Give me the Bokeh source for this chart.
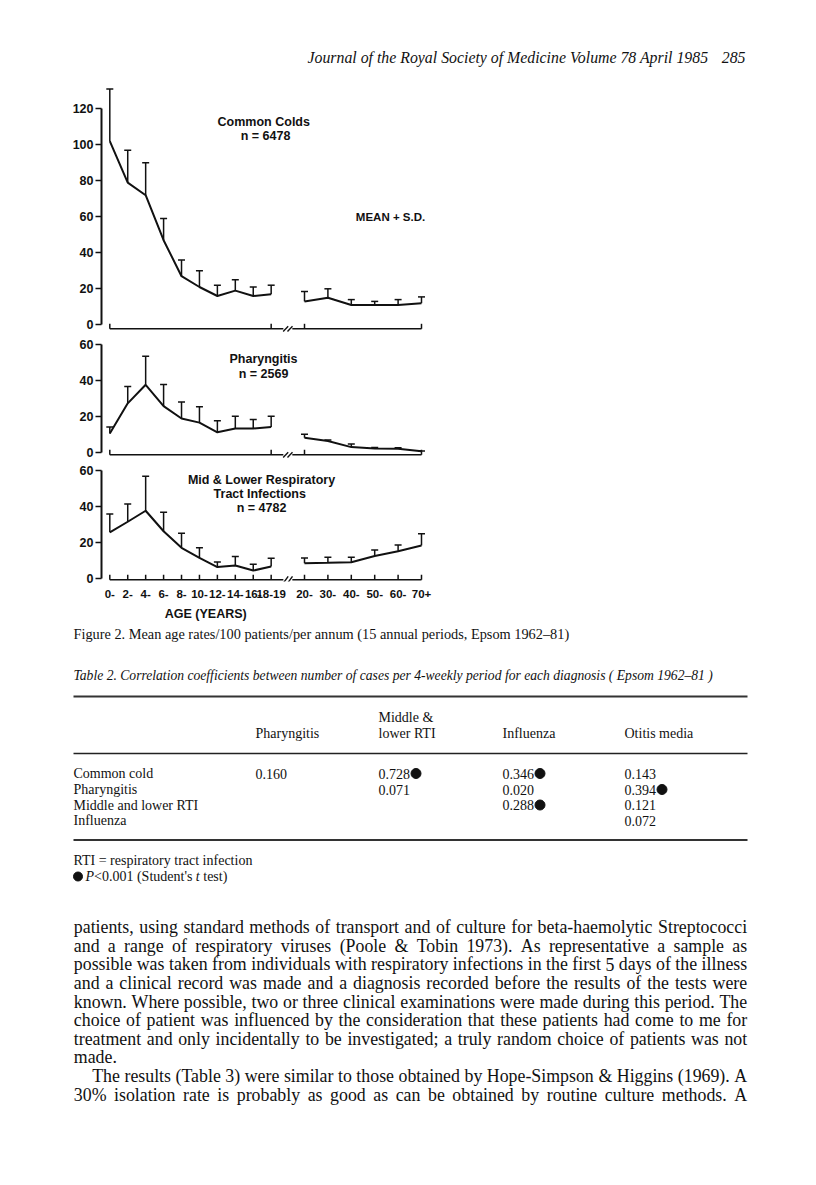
import os
import glob
import subprocess
from bokeh.plotting import figure
from bokeh.layouts import column
from bokeh.models import Range1d, FixedTicker, Whisker, TeeHead, ColumnDataSource
from bokeh.core.properties import value
from bokeh.embed import file_html
from bokeh.resources import INLINE

# ---------------- data ----------------
age_young = ["0-", "2-", "4-", "6-", "8-", "10-", "12-", "14-", "16-", "18-19"]
age_adult = ["20-", "30-", "40-", "50-", "60-", "70+"]

cold_mean = [102, 79, 72, 47, 27, 21, 16, 19, 16, 17, 13, 15, 11, 11, 11, 12]
cold_sd = [29, 18, 18, 12, 9, 9, 6, 6, 5, 5, 5.5, 5, 3, 2, 3, 3.5]

phar_mean = [10.5, 27.3, 37.6, 25.8, 18.9, 16.6, 11.2, 13.3, 13.3, 14.2, 8.2, 6.4, 3.0, 2.2, 2.1, 0.7]
phar_sd = [3.7, 9.3, 15.9, 12.0, 9.1, 8.8, 6.4, 6.9, 5.0, 6.0, 1.9, 0.5, 1.7, 0.6, 0.5, 0.2]

rti_mean = [25.8, 31.7, 37.8, 26.4, 17.2, 11.6, 6.5, 7.4, 4.6, 6.8, 8.7, 8.9, 9.2, 12.7, 15.3, 18.5]
rti_sd = [10.2, 9.8, 19.2, 10.6, 8.1, 5.6, 2.9, 5.0, 3.5, 4.6, 2.9, 3.1, 2.8, 3.3, 3.5, 6.5]

cold_ticks = [0, 20, 40, 60, 80, 100, 120]
small_ticks = [0, 20, 40, 60]

cold_title = ["Common  Colds", "n = 6478"]
phar_title = ["Pharyngitis", "n = 2569"]
rti_title = ["Mid & Lower Respiratory", "Tract  Infections", "n = 4782"]
mean_note = "MEAN + S.D."
x_title = "AGE  (YEARS)"

header_text = "Journal of the Royal Society of Medicine Volume 78 April 1985"
page_number = "285"
caption = "Figure 2. Mean age rates/100 patients/per annum (15 annual periods, Epsom 1962\u201381)"
table_title = ("Table 2. Correlation coefficients between number of cases per 4-weekly period "
               "for each diagnosis ( Epsom 1962\u201381 )")
table_cols = [["Pharyngitis"], ["Middle &", "lower RTI"], ["Influenza"], ["Otitis media"]]
table_rows = ["Common cold", "Pharyngitis", "Middle and lower RTI", "Influenza"]
table_vals = [["0.160", "0.728", "0.346", "0.143"],
              ["", "0.071", "0.020", "0.394"],
              ["", "", "0.288", "0.121"],
              ["", "", "", "0.072"]]
table_sig = [[0, 1, 1, 0],
             [0, 0, 0, 1],
             [0, 0, 1, 0],
             [0, 0, 0, 0]]
foot_1 = "RTI = respiratory tract infection"
foot_2 = [("P", "italic"), ("<0.001 (Student's ", "normal"), ("t", "italic"), (" test)", "normal")]

body_lines = [
    ("patients, using standard methods of transport and of culture for beta-haemolytic Streptococci", True, False),
    ("and a range of respiratory viruses (Poole & Tobin 1973). As representative a sample as", True, False),
    ("possible was taken from individuals with respiratory infections in the first 5 days of the illness", True, False),
    ("and a clinical record was made and a diagnosis recorded before the results of the tests were", True, False),
    ("known. Where possible, two or three clinical examinations were made during this period. The", True, False),
    ("choice of patient was influenced by the consideration that these patients had come to me for", True, False),
    ("treatment and only incidentally to be investigated; a truly random choice of patients was not", True, False),
    ("made.", False, False),
    ("The results (Table 3) were similar to those obtained by Hope-Simpson & Higgins (1969). A", True, True),
    ("30% isolation rate is probably as good as can be obtained by routine culture methods. A", True, False),
]

# ---------------- layout constants ----------------
W = 816
INK = "#111111"
SANS = "Liberation Sans"
SERIF = "Liberation Serif"
PX_X = 17.93
PX_Y = 1.8
LEFT = 101
X_START = -0.463
STEP_ADULT = 1.305
GAP_BLOCK = 1.859
x_young = list(range(len(age_young)))
x_adult = [round(x_young[-1] + GAP_BLOCK + STEP_ADULT * i, 3) for i in range(len(age_adult))]
x_all = x_young + x_adult

# ---------------- font metrics ----------------
try:
    from PIL import ImageFont
except Exception:
    ImageFont = None


def find_font(fname, pattern):
    try:
        out = subprocess.run(["fc-match", "-f", "%{file}", pattern], capture_output=True,
                             text=True, timeout=5).stdout.strip()
        if out and os.path.exists(out) and "Liberation" in out:
            return out
    except Exception:
        pass
    for root in ["/usr/share/fonts", "/usr/local/share/fonts",
                 os.path.expanduser("~/.fonts"), os.path.expanduser("~/.local/share/fonts")]:
        hits = glob.glob(os.path.join(root, "**", fname), recursive=True)
        if hits:
            return hits[0]
    return None


FONT_FILES = {"normal": find_font("LiberationSerif-Regular.ttf", "Liberation Serif:style=Regular"),
              "italic": find_font("LiberationSerif-Italic.ttf", "Liberation Serif:style=Italic")}

_R = {' ': 250, '!': 333, '&': 778, "'": 333, '(': 333, ')': 333, '+': 564, ',': 250, '-': 333,
      '.': 250, '/': 278, ':': 278, ';': 278, '<': 564, '=': 564, '%': 833, '\u2013': 500,
      'A': 722, 'B': 667, 'C': 667, 'D': 722, 'E': 611, 'F': 556, 'G': 722, 'H': 722, 'I': 333,
      'J': 389, 'K': 722, 'L': 611, 'M': 889, 'N': 722, 'O': 722, 'P': 556, 'Q': 722, 'R': 667,
      'S': 556, 'T': 611, 'U': 722, 'V': 722, 'W': 944, 'X': 722, 'Y': 722, 'Z': 611,
      'a': 444, 'b': 500, 'c': 444, 'd': 500, 'e': 444, 'f': 333, 'g': 500, 'h': 500, 'i': 278,
      'j': 278, 'k': 500, 'l': 278, 'm': 778, 'n': 500, 'o': 500, 'p': 500, 'q': 500, 'r': 333,
      's': 389, 't': 278, 'u': 500, 'v': 500, 'w': 722, 'x': 500, 'y': 500, 'z': 444}
_I = dict(_R)
_I.update({':': 333, ';': 333, '<': 675, 'A': 611, 'B': 611, 'E': 611, 'F': 611, 'J': 444,
           'K': 667, 'L': 556, 'M': 833, 'N': 667, 'P': 611, 'R': 611, 'S': 500, 'T': 556,
           'V': 611, 'W': 833, 'X': 611, 'Y': 556, 'Z': 556, 'a': 500, 'f': 278, 'k': 444,
           'm': 722, 'r': 389, 'v': 444, 'w': 667, 'x': 444, 'y': 444, 'z': 389})
_fcache = {}


def tw(text, size, style="normal"):
    path = FONT_FILES.get(style)
    if ImageFont is not None and path:
        try:
            if path not in _fcache:
                _fcache[path] = ImageFont.truetype(path, 200)
            return _fcache[path].getlength(text) * size / 200.0
        except Exception:
            pass
    tab = _R if style == "normal" else _I
    return sum(tab.get(c, 500) for c in text) * size / 1000.0


def fit(text, width, style="normal"):
    return width / tw(text, 1.0, style)


def base_fig(**kw):
    p = figure(output_backend="svg", toolbar_location=None, frame_align=False, **kw)
    p.grid.visible = False
    p.outline_line_color = None
    p.background_fill_color = "white"
    p.border_fill_color = "white"
    return p


# ---------------- chart panels ----------------
def px_to_x(page_x):
    return X_START + (page_x - LEFT) / PX_X


def make_panel(top, bottom, zero_y, base_px, mean, sd, ticks, ymax, titles, title_cx, title_ys,
               with_labels):
    height = bottom - top
    border_b = 24 if with_labels else 0
    frame_bottom = bottom - border_b
    y_end = (zero_y - top) / PX_Y
    y_start = -(frame_bottom - zero_y) / PX_Y
    p = base_fig(width=W, height=height,
                 x_range=Range1d(X_START, X_START + (W - LEFT) / PX_X),
                 y_range=Range1d(y_start, y_end),
                 min_border_left=LEFT, min_border_right=0, min_border_top=0,
                 min_border_bottom=border_b,
                 x_axis_location=("below" if with_labels else None), y_axis_location="left")

    ax = p.yaxis[0]
    ax.ticker = FixedTicker(ticks=ticks)
    ax.bounds = (0, ymax)
    ax.axis_line_width = 2
    ax.axis_line_color = INK
    ax.major_tick_out = 6
    ax.major_tick_in = 0
    ax.minor_tick_out = 0
    ax.minor_tick_in = 0
    ax.major_tick_line_width = 1.5
    ax.major_tick_line_color = INK
    ax.major_label_standoff = 2
    ax.major_label_text_font = SANS
    ax.major_label_text_font_style = "bold"
    ax.major_label_text_font_size = "12.5px"
    ax.major_label_text_color = INK

    n1 = len(x_young)
    p.line(x_young, mean[:n1], line_width=2, color=INK)
    p.line(x_adult, mean[n1:], line_width=2, color=INK)

    src = ColumnDataSource(dict(x=x_all, lower=mean, upper=[m + s for m, s in zip(mean, sd)]))
    p.add_layout(Whisker(source=src, base="x", lower="lower", upper="upper",
                         line_color=INK, line_width=1.5, lower_head=None,
                         upper_head=TeeHead(size=7, line_color=INK, line_width=1.5)))

    # baseline with a scale break
    by = -base_px / PX_Y
    cx = (x_young[-1] + x_adult[0]) / 2.0
    gap = 0.25
    p.segment(x0=[x_young[0], cx + gap], y0=[by, by], x1=[cx - gap, x_adult[-1]], y1=[by, by],
              line_width=1.5, color=INK)
    tick_x = x_all if with_labels else [x_young[0], x_young[-1], x_adult[0], x_adult[-1]]
    th = 5 / PX_Y
    p.segment(x0=tick_x, y0=[by] * len(tick_x), x1=tick_x, y1=[by + th] * len(tick_x),
              line_width=1.5, color=INK)
    sh = (3.5 if with_labels else 2.6) / PX_Y
    p.segment(x0=[cx - 0.26, cx - 0.02], y0=[by - sh, by - sh],
              x1=[cx + 0.02, cx + 0.26], y1=[by + sh, by + sh], line_width=1.4, color=INK)

    p.text(x=[px_to_x(title_cx)] * len(titles), y=[(zero_y - yy) / PX_Y for yy in title_ys],
           text=titles, text_align="center", text_baseline="middle",
           text_font=value(SANS), text_font_style="bold", text_font_size="12.5px",
           text_color=INK)

    if with_labels:
        xa = p.xaxis[0]
        xa.ticker = FixedTicker(ticks=x_all)
        xa.major_label_overrides = {x: lab for x, lab in zip(x_all, age_young + age_adult)}
        xa.axis_line_color = None
        xa.major_tick_in = 0
        xa.major_tick_out = 0
        xa.minor_tick_in = 0
        xa.minor_tick_out = 0
        xa.major_label_standoff = 8
        xa.major_label_text_font = SANS
        xa.major_label_text_font_style = "bold"
        xa.major_label_text_font_size = "11.5px"
        xa.major_label_text_color = INK
    return p


p1 = make_panel(80, 336, 324.3, 4.0, cold_mean, cold_sd, cold_ticks, 120,
                cold_title, 265, [121.5, 135.5], False)
p1.text(x=[px_to_x(390)], y=[(324.3 - 216) / PX_Y], text=[mean_note], text_align="center",
        text_baseline="middle", text_font=value(SANS), text_font_style="bold",
        text_font_size="11.5px", text_color=INK)
p2 = make_panel(336, 460, 452.0, 2.3, phar_mean, phar_sd, small_ticks, 60,
                phar_title, 263, [358.3, 373.3], False)
p3 = make_panel(460, 605, 578.3, 1.0, rti_mean, rti_sd, small_ticks, 60,
                rti_title, 261, [479.3, 493.3, 507.0], True)


# ---------------- text figures (page coordinates) ----------------
def text_fig(top, bottom):
    return base_fig(width=W, height=bottom - top, x_range=Range1d(0, W),
                    y_range=Range1d(bottom, top), min_border=0,
                    min_border_left=0, min_border_right=0, min_border_top=0, min_border_bottom=0,
                    x_axis_location=None, y_axis_location=None)


def put(p, x, y, text, size, style="normal", align="left", font=SERIF, weight=None):
    p.text(x=[x], y=[y], text=[text], text_align=align, text_baseline="middle",
           text_font=value(font), text_font_style=(weight or style),
           text_font_size=f"{size:.2f}px", text_color=INK)


hdr = text_fig(0, 80)
hsize = fit(header_text, 401, "italic")
put(hdr, 307, 57, header_text, hsize, "italic")
put(hdr, 745, 57, page_number, hsize, "italic", "right")

bot = text_fig(605, 1183)
put(bot, 207, 613, x_title, 12.5, align="center", font=SANS, weight="bold")
put(bot, 73, 633, caption, fit(caption, 496))
put(bot, 73, 675, table_title, fit(table_title, 640, "italic"), "italic")

TL, TR = 73, 747
bot.segment(x0=[TL], y0=[696], x1=[TR], y1=[696], line_width=1.8, color="#333333")
bot.segment(x0=[TL], y0=[753], x1=[TR], y1=[753], line_width=1.3, color="#222222")
bot.segment(x0=[TL], y0=[839.5], x1=[TR], y1=[839.5], line_width=1.8, color="#333333")

col_x = [255, 378, 502, 624]
TS = 14
for cx_, lines in zip(col_x, table_cols):
    ys = [733] if len(lines) == 1 else [717, 733]
    for yy, t in zip(ys, lines):
        put(bot, cx_, yy, t, TS)
row_y = [773, 789, 804.5, 820]
dot_x, dot_y = [], []
for ry, lab, vals, sig in zip(row_y, table_rows, table_vals, table_sig):
    put(bot, 73, ry, lab, TS)
    for cx_, v, s in zip(col_x, vals, sig):
        if v:
            put(bot, cx_, ry, v, TS)
            if s:
                dot_x.append(cx_ + tw(v, TS) + 6)
                dot_y.append(ry)
bot.scatter(dot_x, dot_y, size=10, marker="circle", color=INK)

FS = 14
put(bot, 73, 860, foot_1, FS)
bot.scatter([77.5], [876], size=9, marker="circle", color=INK)
fx = 85
for seg, st in foot_2:
    lead = len(seg) - len(seg.lstrip(" "))
    put(bot, fx + tw(" " * lead, FS, st), 876, seg.strip(" "), FS, st)
    fx += tw(seg, FS, st)

# body text, justified word by word
BL, BR = 73.3, 746.7
INDENT = 18.4
body_y0, body_dy = 926.7, 18.6
bsize = min((BR - BL - (INDENT if ind else 0)) / tw(t, 1.0)
            for t, just, ind in body_lines if just)
wx, wy, wt = [], [], []
for i, (t, just, ind) in enumerate(body_lines):
    y = body_y0 + i * body_dy
    left = BL + (INDENT if ind else 0)
    words = t.split(" ")
    widths = [tw(w, bsize) for w in words]
    if just and len(words) > 1:
        g = (BR - left - sum(widths)) / (len(words) - 1)
    else:
        g = tw(" ", bsize)
    x = left
    for w, wd in zip(words, widths):
        wx.append(x)
        wy.append(y)
        wt.append(w)
        x += wd + g
bot.text(x=wx, y=wy, text=wt, text_align="left", text_baseline="middle",
         text_font=value(SERIF), text_font_size=f"{bsize:.2f}px", text_color=INK)

layout = column(hdr, p1, p2, p3, bot, spacing=0)
open("out.html", "w").write(file_html(layout, INLINE))
